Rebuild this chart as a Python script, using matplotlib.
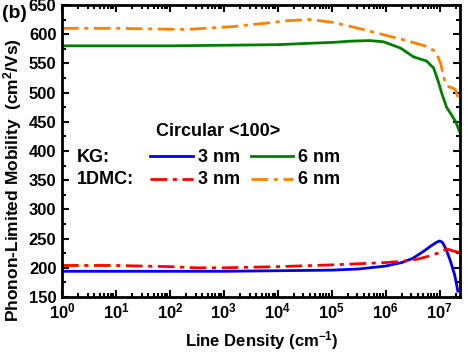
import matplotlib
matplotlib.use("Agg")
import matplotlib.pyplot as plt
import numpy as np
from matplotlib.ticker import FixedLocator, LogLocator, MultipleLocator, NullFormatter

plt.rcParams["font.family"] = "Liberation Sans"
plt.rcParams["font.weight"] = "bold"
plt.rcParams["mathtext.fontset"] = "custom"
plt.rcParams["mathtext.rm"] = "Liberation Sans:bold"
plt.rcParams["mathtext.it"] = "Liberation Sans:bold"
plt.rcParams["mathtext.bf"] = "Liberation Sans:bold"

# log10 of line density, mobility values
kg3_logx = [0, 1, 2, 3, 4, 5, 5.5, 6, 6.3, 6.5, 6.7, 6.85, 6.95, 7.0, 7.05, 7.12, 7.2, 7.28, 7.34]
kg3_mu = [194, 194, 194, 194, 195, 196, 198, 203, 209, 216, 228, 238, 244, 246, 244, 232, 212, 188, 160]

kg6_logx = [0, 1, 2, 3, 4, 4.5, 5.04, 5.35, 5.7, 5.96, 6.28, 6.52, 6.76, 6.89, 6.98, 7.04, 7.13, 7.22, 7.3, 7.38]
kg6_mu = [580, 580, 580, 581, 582, 584, 586, 588, 589, 587, 576, 561, 554, 542, 518, 499, 475, 462, 450, 431]

dmc3_logx = [0, 1, 2, 2.5, 3, 4, 5, 5.5, 6, 6.3, 6.6, 6.8, 7.0, 7.1, 7.15, 7.25, 7.38]
dmc3_mu = [204, 204, 202, 200, 200, 202, 205, 207, 209, 211, 215, 220, 226, 231, 232, 229, 226]

dmc6_logx = [0, 1, 2.3, 3.17, 3.8, 4.17, 4.6, 5.04, 5.54, 5.96, 6.39, 6.76, 6.93, 7.02, 7.09, 7.17, 7.29, 7.38]
dmc6_mu = [610, 610, 608, 613, 619, 623, 625, 620, 609, 599, 589, 579, 570, 550, 522, 510, 506, 482]

x_decades = [0, 1, 2, 3, 4, 5, 6, 7]

dashdot = (0, (6, 2, 1.5, 2))

fig = plt.figure(figsize=(4.68, 3.53), dpi=100)
ax = fig.add_axes([0.1325, 0.1586, 0.8505, 0.8274])

ax.plot(10 ** np.array(kg3_logx), kg3_mu, color="#0000ee", lw=2)
ax.plot(10 ** np.array(kg6_logx), kg6_mu, color="#008000", lw=2)
ax.plot(10 ** np.array(dmc3_logx), dmc3_mu, color="#ff0000", lw=2, ls=dashdot)
ax.plot(10 ** np.array(dmc6_logx), dmc6_mu, color="#ff8000", lw=2, ls=dashdot)

ax.set_xscale("log")
ax.set_xlim(1, 2.4e7)
ax.set_ylim(150, 650)
ax.xaxis.set_major_locator(FixedLocator([10.0 ** d for d in x_decades]))
ax.xaxis.set_minor_locator(LogLocator(base=10, subs=np.arange(2, 10), numticks=20))
ax.xaxis.set_minor_formatter(NullFormatter())
ax.yaxis.set_major_locator(MultipleLocator(50))
ax.yaxis.set_minor_locator(MultipleLocator(25))
ax.tick_params(which="both", direction="in", top=True, right=True, width=1.5)
ax.tick_params(which="major", length=5, labelsize=12)
ax.tick_params(which="minor", length=3)
ax.tick_params(axis="y", pad=4)
ax.tick_params(axis="x", pad=3)
for s in ax.spines.values():
    s.set_linewidth(2)

fig.text(0.559, 0.036, "Line Density (cm$^{-1}$)", fontsize=12, ha="center", va="center")
fig.text(0.027, 0.49, "Phonon-Limited Mobility  (cm$^{2}$/Vs)", fontsize=12.5,
         rotation=90, ha="center", va="center")
fig.text(0.004, 0.962, "(b)", fontsize=14, va="center")

# hand-made legend block
ax.text(0.235, 0.565, "Circular <100>", transform=ax.transAxes, fontsize=13, va="center")
ax.text(0.038, 0.478, "KG:", transform=ax.transAxes, fontsize=13, va="center")
ax.text(0.038, 0.402, "1DMC:", transform=ax.transAxes, fontsize=13, va="center")
rows = [(0.482, "#0000ee", "#008000", "-"), (0.405, "#ff0000", "#ff8000", dashdot)]
for y, c1, c2, ls in rows:
    ax.plot([0.22, 0.33], [y, y], transform=ax.transAxes, color=c1, lw=2, ls=ls)
    ax.plot([0.475, 0.58], [y, y], transform=ax.transAxes, color=c2, lw=2, ls=ls)
    ax.text(0.342, y - 0.004, "3 nm", transform=ax.transAxes, fontsize=13, va="center")
    ax.text(0.592, y - 0.004, "6 nm", transform=ax.transAxes, fontsize=13, va="center")

fig.savefig("out.png", dpi=100)
